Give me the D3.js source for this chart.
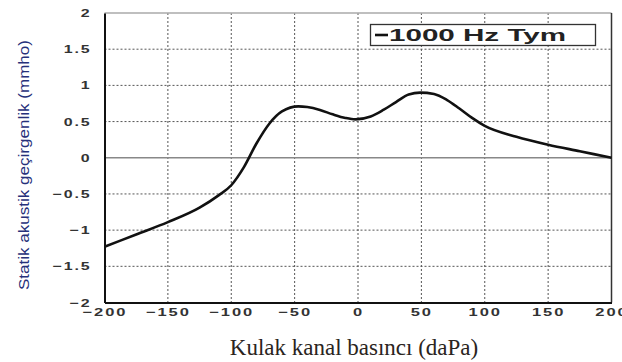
<!DOCTYPE html>
<html>
<head>
<meta charset="utf-8">
<script src="https://cdn.jsdelivr.net/npm/d3@7"></script>
<style>
  body { margin: 0; background: #fff; }
  svg { display: block; }
  .tick text { font-family: "Liberation Sans", Arial, sans-serif; font-weight: bold; letter-spacing: 1.3px; fill: #333; }
</style>
</head>
<body>
<svg id="chart" width="622" height="362"></svg>
<script>
// pressure (daPa) and admittance (mmho)
var pressure = [-200, -175, -150, -125, -110, -100, -90, -80, -70, -60, -47, -40, -30, -20, -10, -2,
                10, 20, 30, 40, 49, 60, 70, 80, 90, 100, 125, 150, 175, 200];
var admittance = [-1.23, -1.06, -0.89, -0.69, -0.52, -0.38, -0.13, 0.2, 0.47, 0.64, 0.71, 0.70, 0.66, 0.6, 0.55, 0.53,
                  0.57, 0.66, 0.77, 0.875, 0.9, 0.88, 0.8, 0.68, 0.55, 0.44, 0.29, 0.18, 0.09, 0.0];
var xTicks = [-200, -150, -100, -50, 0, 50, 100, 150, 200];
var yTicks = [-2, -1.5, -1, -0.5, 0, 0.5, 1, 1.5, 2];
var legendLabel = "1000 Hz Tym";

var svg = d3.select("#chart");
var mLeft = 104.5, mRight = 611.5, mTop = 13, mBottom = 302.5;

var x = d3.scaleLinear().domain([-200, 200]).range([mLeft, mRight]);
var y = d3.scaleLinear().domain([-2, 2]).range([mBottom, mTop]);

// grid
svg.append("g").selectAll("line").data(xTicks.slice(1, -1)).enter().append("line")
    .attr("x1", function(d) { return x(d) }).attr("x2", function(d) { return x(d) })
    .attr("y1", mTop).attr("y2", mBottom)
    .attr("stroke", "#555").attr("stroke-width", 1).attr("stroke-dasharray", "2,2");
svg.append("g").selectAll("line").data(yTicks.filter(function(d) { return d != 0 && Math.abs(d) < 2 })).enter().append("line")
    .attr("x1", mLeft).attr("x2", mRight)
    .attr("y1", function(d) { return y(d) }).attr("y2", function(d) { return y(d) })
    .attr("stroke", "#555").attr("stroke-width", 1).attr("stroke-dasharray", "2,2");

// zero line
svg.append("line").attr("x1", mLeft).attr("x2", mRight).attr("y1", y(0)).attr("y2", y(0))
    .attr("stroke", "#888").attr("stroke-width", 1.5);

// frame
svg.append("line").attr("x1", mLeft).attr("x2", mRight).attr("y1", mTop).attr("y2", mTop)
    .attr("stroke", "#aaa").attr("stroke-width", 1.5);
svg.append("line").attr("x1", mRight).attr("x2", mRight).attr("y1", mTop).attr("y2", mBottom)
    .attr("stroke", "#333").attr("stroke-width", 1.5);

// axes (labels are wide and flat in the original, so stretch them)
var xAxis = svg.append("g").attr("transform", "translate(0," + mBottom + ")")
    .call(d3.axisBottom(x).tickValues(xTicks).tickSize(0).tickPadding(6)
        .tickFormat(function(d) { return String(d).replace("-", "\u2212") }));
xAxis.selectAll("text").style("font-size", "11px").attr("transform", "scale(1.5,1)");
xAxis.select(".domain").attr("stroke", "#111").attr("stroke-width", 2);

var yAxis = svg.append("g").attr("transform", "translate(" + mLeft + ",0)")
    .call(d3.axisLeft(y).tickValues(yTicks).tickSize(0).tickPadding(9)
        .tickFormat(function(d) { return String(d).replace("-", "\u2212") }));
yAxis.selectAll("text").style("font-size", "11px").attr("transform", "scale(1.45,1)");
yAxis.select(".domain").attr("stroke", "#111").attr("stroke-width", 2);

// curve
var line = d3.line()
    .x(function(d, i) { return x(pressure[i]) })
    .y(function(d) { return y(d) })
    .curve(d3.curveMonotoneX);
svg.append("path").datum(admittance)
    .attr("d", line)
    .attr("fill", "none").attr("stroke", "#111").attr("stroke-width", 2.6);

// legend
var lg = svg.append("g");
lg.append("rect").attr("x", 370.5).attr("y", 24.5).attr("width", 225).attr("height", 21)
    .attr("fill", "#fff").attr("stroke", "#333").attr("stroke-width", 1.3);
lg.append("line").attr("x1", 375).attr("x2", 388).attr("y1", 35).attr("y2", 35)
    .attr("stroke", "#111").attr("stroke-width", 2.6);
lg.append("text").attr("x", 389).attr("y", 41)
    .attr("textLength", 177).attr("lengthAdjust", "spacingAndGlyphs")
    .style("font-family", "Liberation Sans, Arial, sans-serif").style("font-weight", "bold")
    .style("font-size", "16px").attr("fill", "#222")
    .text(legendLabel);

// axis titles
svg.append("text").attr("x", 354).attr("y", 355).attr("text-anchor", "middle")
    .style("font-family", "Liberation Serif, Times New Roman, serif").style("font-size", "23px")
    .attr("fill", "#2a2420")
    .text("Kulak kanal basıncı (daPa)");
svg.append("text").attr("transform", "translate(29,165) rotate(-90)").attr("text-anchor", "middle")
    .attr("textLength", 250).attr("lengthAdjust", "spacingAndGlyphs")
    .style("font-family", "Liberation Sans, Arial, sans-serif").style("font-size", "15.5px")
    .attr("fill", "#26307a")
    .text("Statik akustik geçirgenlik (mmho)");
</script>
</body>
</html>
